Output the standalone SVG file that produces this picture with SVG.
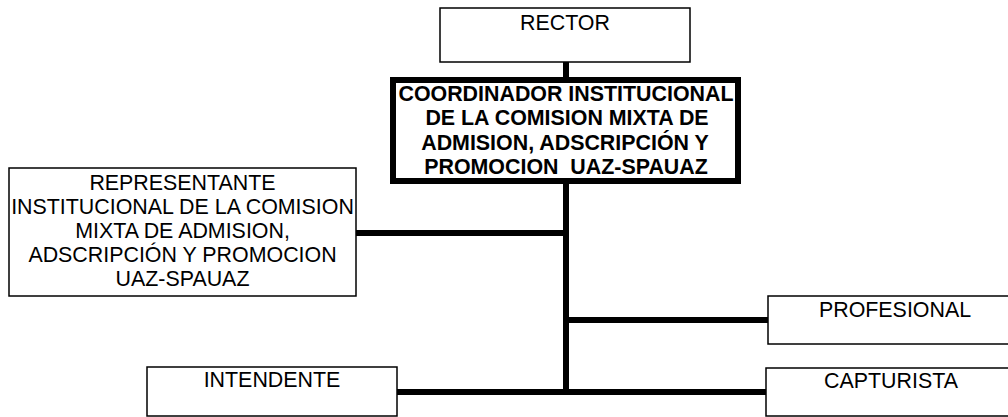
<svg xmlns="http://www.w3.org/2000/svg" width="1008" height="417" viewBox="0 0 1008 417">
<style>
.box{fill:#fff;stroke:#000;stroke-width:1.5}
.thick{fill:#fff;stroke:#000;stroke-width:6}
.t{font-family:"Liberation Sans",Arial,sans-serif;font-size:21.4px;fill:#000;text-anchor:middle}
.b{font-weight:bold}
.c{stroke:#000;stroke-width:6;fill:none}
</style>
<rect width="1008" height="417" fill="#fff"/>
<g id="connectors">
<line class="c" x1="566" y1="62" x2="566" y2="78"/>
<line class="c" x1="566" y1="182" x2="566" y2="395"/>
<line class="c" x1="356" y1="233" x2="566" y2="233"/>
<line class="c" x1="563" y1="320" x2="768" y2="320"/>
<line class="c" x1="397" y1="392" x2="766" y2="392"/>
</g>
<g id="rector">
<rect class="box" x="440" y="8" width="250" height="54"/>
<text class="t" x="565" y="30">RECTOR</text>
</g>
<g id="coordinador">
<rect class="thick" x="393" y="80" width="345" height="101"/>
<text class="t b" x="566" y="101">COORDINADOR INSTITUCIONAL</text>
<text class="t b" x="567" y="125">DE LA COMISION MIXTA DE</text>
<text class="t b" x="565" y="150">ADMISION, ADSCRIPCIÓN Y</text>
<text class="t b" x="566" y="174" xml:space="preserve">PROMOCION  UAZ-SPAUAZ</text>
</g>
<g id="representante">
<rect class="box" x="9" y="168" width="347" height="128"/>
<text class="t" x="182.5" y="190">REPRESENTANTE</text>
<text class="t" x="182.5" y="214">INSTITUCIONAL DE LA COMISION</text>
<text class="t" x="182.5" y="238">MIXTA DE ADMISION,</text>
<text class="t" x="182.5" y="262">ADSCRIPCIÓN Y PROMOCION</text>
<text class="t" x="182.5" y="286">UAZ-SPAUAZ</text>
</g>
<g id="profesional">
<rect class="box" x="768" y="296" width="260" height="48"/>
<text class="t" x="895" y="317">PROFESIONAL</text>
</g>
<g id="intendente">
<rect class="box" x="147" y="367" width="250" height="49"/>
<text class="t" x="272" y="387">INTENDENTE</text>
</g>
<g id="capturista">
<rect class="box" x="766" y="368" width="260" height="48"/>
<text class="t" x="891" y="388">CAPTURISTA</text>
</g>
</svg>
